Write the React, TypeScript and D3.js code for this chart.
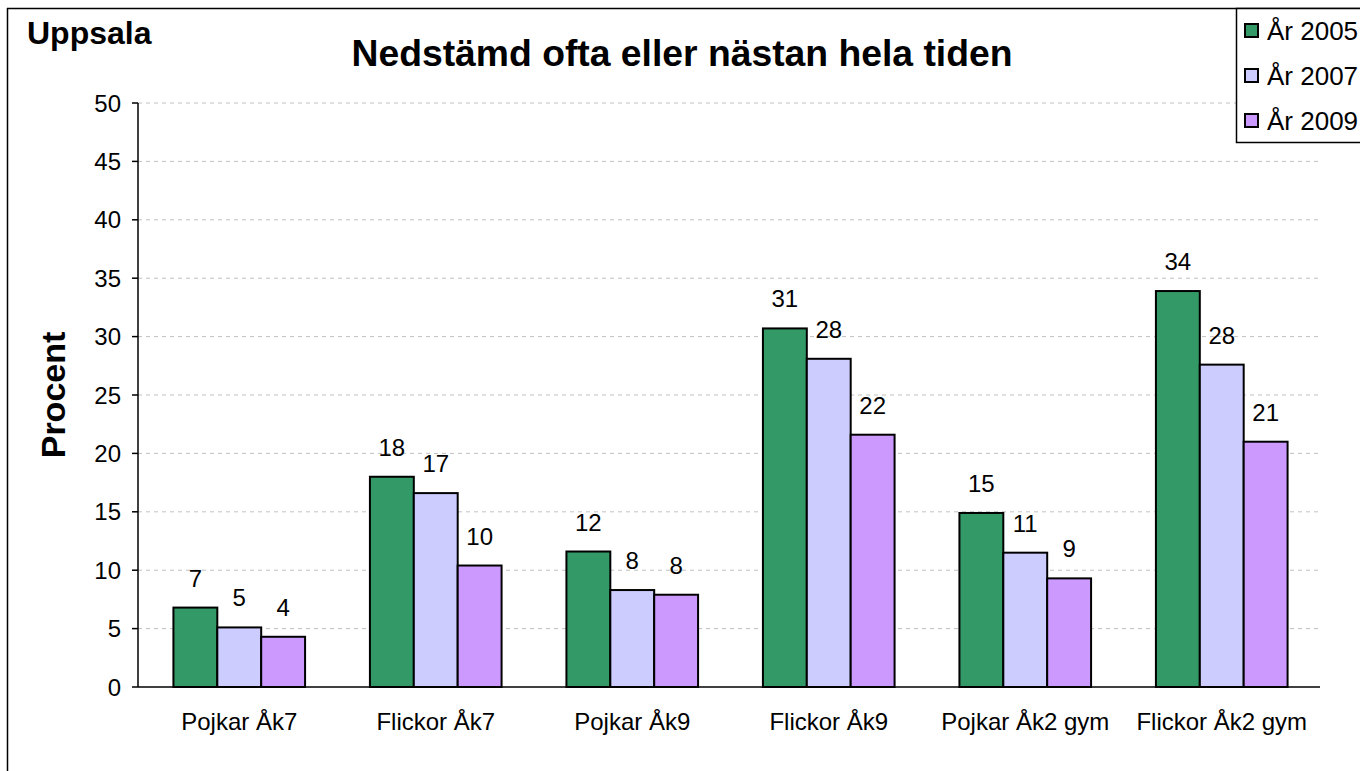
import React from "react";
import * as d3 from "d3";

const categories = ["Pojkar Åk7", "Flickor Åk7", "Pojkar Åk9", "Flickor Åk9", "Pojkar Åk2 gym", "Flickor Åk2 gym"];
const seriesNames = ["År 2005", "År 2007", "År 2009"];
const values2005 = [6.8, 18.0, 11.6, 30.7, 14.9, 33.9];
const values2007 = [5.1, 16.6, 8.3, 28.1, 11.5, 27.6];
const values2009 = [4.3, 10.4, 7.9, 21.6, 9.3, 21.0];
const labels2005 = ["7", "18", "12", "31", "15", "34"];
const labels2007 = ["5", "17", "8", "28", "11", "28"];
const labels2009 = ["4", "10", "8", "22", "9", "21"];
const yTicks = [0, 5, 10, 15, 20, 25, 30, 35, 40, 45, 50];
const colors = ["#339966", "#CCCCFF", "#CC99FF"];

const W = 1360, H = 771;
const plotLeft = 138, plotRight = 1320, plotTop = 103, plotBottom = 687;
const FONT = "Liberation Sans, Arial, sans-serif";

export default function App() {
  const series = [values2005, values2007, values2009];
  const labels = [labels2005, labels2007, labels2009];
  const x0 = d3.scaleBand<string>().domain(categories).range([plotLeft + 3, plotRight]).paddingInner(0.33).paddingOuter(0.165);
  const x1 = d3.scaleBand<number>().domain([0, 1, 2]).range([0, x0.bandwidth()]);
  const y = d3.scaleLinear().domain([0, 50]).range([plotBottom, plotTop]);

  return (
    <svg width={W} height={H} style={{ position: "absolute", left: 0, top: 0, background: "#fff" }} fontFamily={FONT}>
      <rect x={0} y={0} width={W} height={H} fill="#fff" />
      {/* outer border */}
      <line x1={7.5} y1={8} x2={7.5} y2={H} stroke="#000" strokeWidth={1.5} />
      <line x1={7} y1={8.5} x2={W} y2={8.5} stroke="#000" strokeWidth={1.5} />

      {/* gridlines */}
      {yTicks.filter(t => t > 0).map(t => (
        <line key={"g" + t} x1={plotLeft} x2={plotRight - 2} y1={y(t)} y2={y(t)} stroke="#c0c0c0" strokeWidth={1} strokeDasharray="4,4" />
      ))}

      {/* bars */}
      {categories.map((c, i) => (
        <g key={c} transform={`translate(${x0(c)},0)`}>
          {series.map((s, k) => (
            <rect key={k} x={x1(k)!} y={y(s[i])} width={x1.bandwidth()} height={y(0) - y(s[i])} fill={colors[k]} stroke="#000" strokeWidth={2} />
          ))}
          {series.map((s, k) => (
            <text key={"l" + k} x={x1(k)! + x1.bandwidth() / 2} y={y(s[i]) - 21} textAnchor="middle" fontSize={24} fill="#000">{labels[k][i]}</text>
          ))}
        </g>
      ))}

      {/* axes */}
      <line x1={plotLeft} x2={plotLeft} y1={plotTop} y2={plotBottom} stroke="#000" strokeWidth={1.5} />
      <line x1={plotLeft} x2={plotRight} y1={plotBottom} y2={plotBottom} stroke="#000" strokeWidth={1.5} />
      {yTicks.map(t => (
        <g key={"t" + t}>
          <line x1={plotLeft - 6} x2={plotLeft} y1={y(t)} y2={y(t)} stroke="#000" strokeWidth={1.5} />
          <text x={121} y={y(t)} dy="0.36em" textAnchor="end" fontSize={24} fill="#000">{t}</text>
        </g>
      ))}
      {categories.map(c => (
        <text key={"c" + c} x={x0(c)! + x0.bandwidth() / 2} y={730} textAnchor="middle" fontSize={24} fill="#000">{c}</text>
      ))}

      {/* titles */}
      <text x={27} y={44} fontSize={32} fontWeight="bold" fill="#000">Uppsala</text>
      <text x={682} y={66} textAnchor="middle" fontSize={36} fontWeight="bold" fill="#000" textLength={661} lengthAdjust="spacingAndGlyphs">Nedstämd ofta eller nästan hela tiden</text>
      <text transform={`translate(65,395) rotate(-90)`} textAnchor="middle" fontSize={34} fontWeight="bold" fill="#000">Procent</text>

      {/* legend */}
      <rect x={1236.5} y={8.5} width={140} height={134} fill="#fff" stroke="#000" strokeWidth={1.5} />
      {seriesNames.map((n, k) => (
        <g key={n}>
          <rect x={1245} y={24 + k * 45} width={13} height={13} fill={colors[k]} stroke="#000" strokeWidth={2} />
          <text x={1267} y={31 + k * 45} dy="0.36em" fontSize={26} fill="#000">{n}</text>
        </g>
      ))}
    </svg>
  );
}
